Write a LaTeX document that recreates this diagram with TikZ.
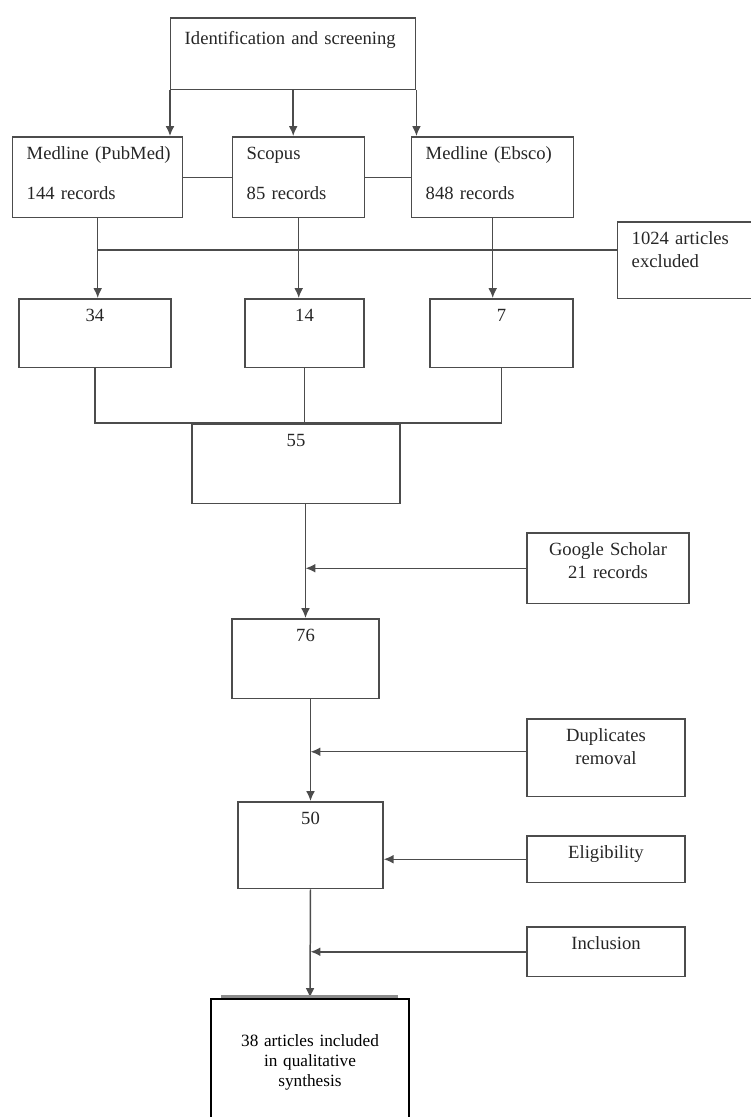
\documentclass[tikz,border=0pt]{standalone}
\usepackage{fontspec}
\setmainfont{Liberation Serif}
\usetikzlibrary{arrows.meta,positioning,calc}

\begin{document}
\begin{tikzpicture}[x=0.02cm, y=-0.02cm, >={Latex[length=5.6pt,width=5pt]}, font=\fontsize{10.6}{13}\selectfont]
    \tikzset{
      line/.style={draw=black!70, line width=0.85pt},
      src/.style={line, anchor=north west, align=left, inner xsep=0.28cm, inner ysep=0.22cm, text height=0.24cm, text=black!85},
      cell/.style={line, anchor=north, align=center, inner xsep=0pt, inner ysep=0.22cm, text height=0.24cm, text=black!85},
      side/.style={cell, minimum width=3.16cm, text width=3.16cm},
    }
    \useasboundingbox (0,0) rectangle (751,1117);

    % databases
    \node[src, text width=4.34cm, text height=0.32cm, text depth=0.68cm] (ident) at (170,17) {Identification and screening};
    \node[src, text width=2.84cm, text depth=0.94cm] (pubmed) at (12,136) {Medline~(PubMed)\\[9.7pt]144 records};
    \node[src, text width=2.08cm, text depth=0.94cm] (scopus) at (232,136) {Scopus\\[9.7pt]85 records};
    \node[src, text width=2.68cm, text depth=0.94cm] (ebsco) at (411,136) {Medline~(Ebsco)\\[9.7pt]848 records};
    \node[src, text width=2.64cm, text depth=0.86cm] (excl) at (617,221) {1024 articles\\excluded};

    % counts
    \node[cell, minimum width=3.04cm, text depth=0.70cm] (n34) at (95,298) {34};
    \node[cell, minimum width=2.38cm, text depth=0.70cm] (n14) at (304.5,298) {14};
    \node[cell, minimum width=2.86cm, text depth=0.70cm] (n7) at (501.5,298) {7};
    \node[cell, minimum width=4.16cm, text depth=0.92cm] (n55) at (296,423) {55};
    \node[cell, minimum width=2.94cm, text depth=0.92cm] (n76) at (305.5,618) {76};
    \node[cell, minimum width=2.90cm, text depth=1.06cm] (n50) at (310.5,801) {50};
    \node[cell, draw=black, line width=1.2pt, text=black, text width=3.96cm, text height=0.72cm, text depth=2cm,
          font=\fontsize{9.8}{11.6}\selectfont] (final) at (310,998) {38 articles included\\in qualitative\\synthesis};

    % steps on the right
    \node[side, minimum width=3.24cm, text width=3.24cm, text depth=0.74cm] (google) at (608,532) {Google Scholar\\21 records};
    \node[side, text depth=0.88cm] (dupl) at (606,718) {Duplicates\\removal};
    \node[side, text depth=0.26cm] (elig) at (606,835) {Eligibility};
    \node[side, text depth=0.32cm] (incl) at (606,926) {Inclusion};

    \coordinate (cut) at (97,250);

    \draw[line, ->] (ident.south west) -- (ident.south west |- pubmed.north);
    \draw[line, ->] (ident.south) -- (ident.south |- scopus.north);
    \draw[line, ->] (ident.south east) -- (ident.south east |- ebsco.north);
    \draw[line] (pubmed.east) -- (scopus.west);
    \draw[line] (scopus.east) -- (ebsco.west);

    \draw[line, ->] (pubmed.south) -- (pubmed.south |- n34.north);
    \draw[line, ->] (scopus.south) -- (scopus.south |- n14.north);
    \draw[line, ->] (ebsco.south) -- (ebsco.south |- n7.north);
    \draw[line] (cut) -- (cut -| excl.west);

    \draw[line] (n34.south) -- (n34.south |- n55.north) -- (n7.south |- n55.north) -- (n7.south);
    \draw[line] (n14.south) -- (n14.south |- n55.north);

    \draw[line, ->] (n76.north |- n55.south) -- (n76.north);
    \draw[line, ->] (google.west) -- (google.west -| n76.north);
    \draw[line, ->] (n50.north |- n76.south) -- (n50.north);
    \draw[line, ->] ([yshift=0.12cm]dupl.west) -- ([yshift=0.12cm]dupl.west -| n50.north);
    \draw[line, ->] (elig.west) -- (elig.west -| n50.east);
    \draw[line, ->] (n50.south) -- (final.north);
    \draw[line, ->] (incl.west) -- (incl.west -| n50.south);
    \draw[black!45, line width=1.2pt] ([shift={(11,-1.5)}]final.north west) -- ([shift={(-12,-1.5)}]final.north east);
  \end{tikzpicture}
\end{document}
